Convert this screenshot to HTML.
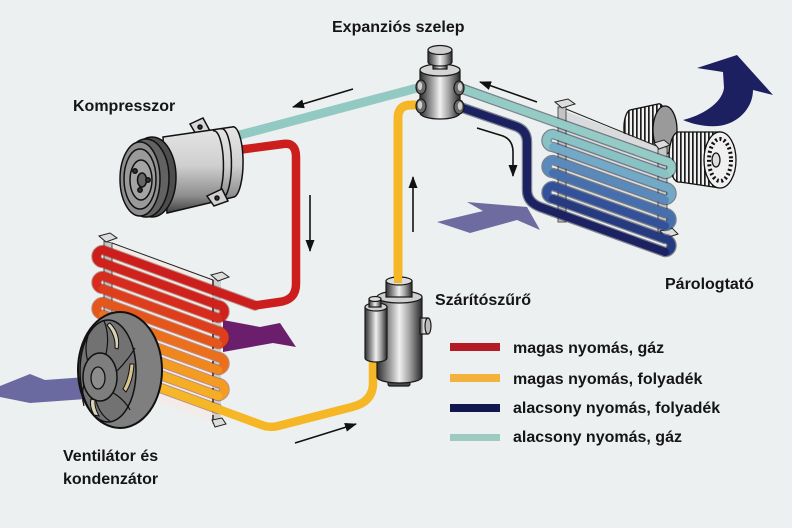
<!DOCTYPE html>
<html><head><meta charset="utf-8">
<style>
html,body{margin:0;padding:0;background:#edf0f0;}
svg{display:block;}
text{font-family:"Liberation Sans","DejaVu Sans",sans-serif;font-weight:bold;font-size:16px;fill:#151515;}
</style></head><body>
<svg width="792" height="528" viewBox="0 0 792 528" xmlns="http://www.w3.org/2000/svg">
<defs>
<linearGradient id="mh" x1="0" y1="0" x2="1" y2="0">
<stop offset="0" stop-color="#2e2e2e"/><stop offset="0.3" stop-color="#a0a0a0"/><stop offset="0.5" stop-color="#f0f0f0"/><stop offset="0.72" stop-color="#a4a4a4"/><stop offset="1" stop-color="#282828"/>
</linearGradient>
<linearGradient id="cv" x1="0" y1="0" x2="0" y2="1">
<stop offset="0" stop-color="#e6e6e6"/><stop offset="0.45" stop-color="#cfcfcf"/><stop offset="0.8" stop-color="#8e8e8e"/><stop offset="1" stop-color="#404040"/>
</linearGradient>
<pattern id="st" width="4" height="6" patternUnits="userSpaceOnUse"><rect width="4" height="6" fill="#f2f2f2"/><rect width="1.7" height="6" fill="#1e1e1e"/></pattern>
<marker id="ah" viewBox="0 0 12 9" refX="11" refY="4.5" markerWidth="12" markerHeight="9" markerUnits="userSpaceOnUse" orient="auto"><path d="M0,0 L12,4.5 L0,9 z" fill="#111"/></marker>
</defs>
<rect width="792" height="528" fill="#edf0f0"/>

<!-- air arrows -->
<polygon points="0,386 30,374 45,380 100,376 100,398 30,403 0,397" fill="#6a69a0"/>
<polygon points="223,320 260,327 280,323 296,347 273,343 223,352" fill="#6b1e6c"/>
<polygon points="437,222 483,211 467,202 527,207 540,230 517,220 470,233" fill="#6e6ba0"/>

<!-- condenser frame -->
<polygon points="108,242 217,281 217,423 108,384" fill="#f3ebe7"/>
<polygon points="104,241 112,243 112,375 104,372" fill="#c6c6c6" stroke="#333" stroke-width="0.8"/>
<rect x="212" y="279" width="9" height="145" fill="#cfcfcf"/>
<line x1="213" y1="280" x2="213" y2="424" stroke="#111" stroke-width="1.3" stroke-dasharray="6 3"/>
<line x1="112" y1="243" x2="213" y2="280" stroke="#222" stroke-width="1"/>
<polygon points="99,236 110,233 117,238 106,242" fill="#ddd" stroke="#222" stroke-width="1"/>
<polygon points="211,275 222,272 229,277 218,281" fill="#ddd" stroke="#222" stroke-width="1"/>
<polygon points="212,420 222,418 226,424 215,427" fill="#ddd" stroke="#222" stroke-width="1"/>

<!-- teal compressor->valve -->
<path d="M236 136 L421 87" stroke="#93c9c3" stroke-width="9" stroke-linecap="round" fill="none"/>

<!-- condenser pipes -->
<g fill="none" stroke-linejoin="round" stroke-linecap="round">
<path d="M255 305.5 L103 250 A6.5 6.5 0 0 0 103 263 L218 305 A6.5 6.5 0 0 1 218 318 L103 276 A6.5 6.5 0 0 0 103 289 L218 331 A6.5 6.5 0 0 1 218 344 L103 302 A6.5 6.5 0 0 0 103 315 L218 357 A6.5 6.5 0 0 1 218 370 L103 328 A6.5 6.5 0 0 0 103 341 L218 383 A6.5 6.5 0 0 1 218 396 L103 354 A6.5 6.5 0 0 0 103 367 L218 409" stroke="#7a2010" stroke-opacity="0.45" stroke-width="10.5"/>
<path d="M238 150 L283 144 Q296 142 296 157 L296 284 Q296 300 279 302 L255 305.5 L103 250 A6.5 6.5 0 0 0 103 263" stroke="#cc1f1d" stroke-width="8.5"/>
<path d="M103 263 L218 305 A6.5 6.5 0 0 1 218 318" stroke="#d0221d" stroke-width="8.5"/>
<path d="M218 318 L103 276 A6.5 6.5 0 0 0 103 289" stroke="#d62b1d" stroke-width="8.5"/>
<path d="M103 289 L218 331 A6.5 6.5 0 0 1 218 344" stroke="#de3e1c" stroke-width="8.5"/>
<path d="M218 344 L103 302 A6.5 6.5 0 0 0 103 315" stroke="#e5561b" stroke-width="8.5"/>
<path d="M103 315 L218 357 A6.5 6.5 0 0 1 218 370" stroke="#ec6f1b" stroke-width="8.5"/>
<path d="M218 370 L103 328 A6.5 6.5 0 0 0 103 341" stroke="#f0871d" stroke-width="8.5"/>
<path d="M103 341 L218 383 A6.5 6.5 0 0 1 218 396" stroke="#f39c21" stroke-width="8.5"/>
<path d="M218 396 L103 354 A6.5 6.5 0 0 0 103 367" stroke="#f5ad24" stroke-width="8.5"/>
<path d="M103 367 L218 409 L263 425.5 Q270 428 278 426 L352 407 Q372 402 373 385 L373 360" stroke="#f6b727" stroke-width="8.5"/>
</g>

<!-- compressor -->
<g stroke="#111" stroke-width="1.5">
<polygon points="190,124 203,118 210,131 197,136" fill="#d8d8d8"/>
<circle cx="200" cy="127" r="2" fill="#333"/>
<path d="M163 137 L232 127 A10 35 0 0 1 234 197 L167 213 Z" fill="url(#cv)"/>
<path d="M213 131 A9 33 0 0 1 215 200" fill="none"/>
<path d="M221 129 A9 33 0 0 1 223 198" fill="none"/>
<polygon points="207,196 222,189 228,201 214,206" fill="#d0d0d0"/>
<circle cx="217" cy="198" r="2" fill="#333"/>
<ellipse cx="152" cy="177" rx="24" ry="40" fill="#4d4d4d"/>
<ellipse cx="146" cy="178" rx="23" ry="39" fill="#626262"/>
<ellipse cx="140" cy="179" rx="20" ry="37" fill="#8e8e8e"/>
<ellipse cx="140" cy="179" rx="16" ry="30" fill="#9a9a9a"/>
<ellipse cx="141" cy="180" rx="11" ry="20" fill="#a4a4a4"/>
<ellipse cx="142" cy="180" rx="4.5" ry="7" fill="#666"/>
<circle cx="135" cy="171" r="2.2" fill="#333"/>
<circle cx="140" cy="190" r="2.2" fill="#333"/>
<circle cx="148" cy="180" r="2.2" fill="#333"/>
</g>

<!-- fan -->
<g>
<ellipse cx="120" cy="370" rx="42" ry="58" fill="#7f7f7f" stroke="#111" stroke-width="2"/>
<ellipse cx="108" cy="371" rx="28" ry="51" fill="#727272" stroke="#111" stroke-width="1.5"/>
<path d="M110 323 Q121 334 118 349 L115 348 Q116 336 107 325 Z" fill="#d9d2b4" stroke="#111" stroke-width="1"/>
<path d="M134 364 Q133 381 126 392 L123 389 Q129 378 130 364 Z" fill="#d8c48e" stroke="#111" stroke-width="1"/>
<path d="M94 415 Q89 406 91 399 L95 400 Q94 407 99 416 Z" fill="#d9d2b4" stroke="#111" stroke-width="1"/>
<g fill="none" stroke="#111" stroke-width="1.2">
<path d="M106 354 Q110 335 104 321"/>
<path d="M116 372 Q128 360 135 348"/>
<path d="M112 392 Q125 400 130 410"/>
<path d="M96 401 Q100 415 110 421"/>
<path d="M84 384 Q81 396 84 406"/>
<path d="M88 362 Q84 348 88 336"/>
</g>
<ellipse cx="100" cy="377" rx="17" ry="24" fill="#7e7e7e" stroke="#111" stroke-width="1.5"/>
<ellipse cx="98" cy="378" rx="7" ry="11" fill="#8c8c8c" stroke="#111" stroke-width="1.3"/>
</g>

<!-- yellow vertical to valve -->
<path d="M398 285 L398 118 Q398 105 411 105 L422 105" stroke="#f6b727" stroke-width="9" fill="none" stroke-linejoin="round"/>

<!-- blower -->
<g stroke="#111" stroke-width="1.3">
<path d="M630 110 L658 104 A8 24 0 0 1 660 152 L632 146 A7 18 0 0 1 630 110 Z" fill="url(#st)"/>
<ellipse cx="665" cy="130" rx="12" ry="24" fill="#9a9a9a"/>
<path d="M678 132 L718 132 A16 28 0 0 1 720 188 L680 182 A10 25 0 0 1 678 132 Z" fill="url(#st)"/>
<ellipse cx="720" cy="160" rx="16" ry="28" fill="#f0f0f0"/>
<ellipse cx="720" cy="160" rx="11" ry="21" fill="none" stroke-width="4" stroke-dasharray="2 2.5"/>
<ellipse cx="716" cy="160" rx="4" ry="7" fill="#ddd"/>
</g>

<!-- evaporator frame -->
<polygon points="562,110 662,148 666,234 562,198" fill="#d9dadb"/>
<line x1="566" y1="109" x2="659" y2="147" stroke="#222" stroke-width="1"/>
<rect x="558" y="107" width="8" height="115" fill="#c4c4c4" stroke="#333" stroke-width="0.8"/>
<rect x="658" y="147" width="9" height="86" fill="#c8c8c8" stroke="#333" stroke-width="0.8"/>
<polygon points="555,102 568,99 575,104 562,108" fill="#ddd" stroke="#222" stroke-width="1"/>
<polygon points="654,143 664,140 670,145 659,149" fill="#ddd" stroke="#222" stroke-width="1"/>
<polygon points="660,231 672,228 678,234 666,238" fill="#ddd" stroke="#222" stroke-width="1"/>

<!-- evaporator pipes -->
<g fill="none" stroke-linejoin="round" stroke-linecap="round">
<path d="M460 88 L665 161 A6.5 6.5 0 0 1 665 174 L553 134 A6.5 6.5 0 0 0 553 147 L665 187 A6.5 6.5 0 0 1 665 200 L553 160 A6.5 6.5 0 0 0 553 173 L665 213 A6.5 6.5 0 0 1 665 226 L553 186 A6.5 6.5 0 0 0 553 199 L665 239 A6.5 6.5 0 0 1 665 252 L540 207 Q527 202 527 190 L527 142 Q527 130 515 126 L460 107" stroke="#1e2a40" stroke-opacity="0.55" stroke-width="10.5"/>
<path d="M460 88 L665 161 A6.5 6.5 0 0 1 665 174" stroke="#94cbc4" stroke-width="8"/>
<path d="M665 174 L553 134 A6.5 6.5 0 0 0 553 147" stroke="#89c2c5" stroke-width="8"/>
<path d="M553 147 L665 187 A6.5 6.5 0 0 1 665 200" stroke="#72a9c6" stroke-width="8"/>
<path d="M665 200 L553 160 A6.5 6.5 0 0 0 553 173" stroke="#5a8abb" stroke-width="8"/>
<path d="M553 173 L665 213 A6.5 6.5 0 0 1 665 226" stroke="#4670ad" stroke-width="8"/>
<path d="M665 226 L553 186 A6.5 6.5 0 0 0 553 199" stroke="#33519a" stroke-width="8"/>
<path d="M553 199 L665 239 A6.5 6.5 0 0 1 665 252" stroke="#263a80" stroke-width="8"/>
<path d="M665 252 L540 207 Q527 202 527 190 L527 142 Q527 130 515 126 L460 107" stroke="#1c2162" stroke-width="8"/>
</g>

<!-- expansion valve -->
<g stroke="#1a1a1a" stroke-width="1.2">
<path d="M420 70 L420 113 A20 6 0 0 0 460 113 L460 70 Z" fill="url(#mh)"/>
<ellipse cx="440" cy="70" rx="20" ry="6" fill="#d4d4d4"/>
<rect x="433" y="60" width="14" height="9" fill="url(#mh)"/>
<path d="M428 50 L428 62 A12 4 0 0 0 452 62 L452 50 Z" fill="url(#mh)"/>
<ellipse cx="440" cy="50" rx="12" ry="4.5" fill="#cfcfcf"/>
<ellipse cx="421" cy="87" rx="5" ry="7" fill="#6a6a6a"/>
<ellipse cx="421" cy="106" rx="5" ry="7" fill="#6a6a6a"/>
<ellipse cx="459" cy="88" rx="5" ry="7" fill="#6a6a6a"/>
<ellipse cx="459" cy="107" rx="5" ry="7" fill="#6a6a6a"/>
<ellipse cx="420" cy="86" rx="2.2" ry="4" fill="#cfcfcf" stroke="none"/>
<ellipse cx="420" cy="105" rx="2.2" ry="4" fill="#cfcfcf" stroke="none"/>
<ellipse cx="460" cy="87" rx="2.2" ry="4" fill="#cfcfcf" stroke="none"/>
<ellipse cx="460" cy="106" rx="2.2" ry="4" fill="#cfcfcf" stroke="none"/>
</g>

<!-- filter drier -->
<g stroke="#1a1a1a" stroke-width="1.2">
<rect x="388" y="378" width="22" height="8" rx="2" fill="#4a4a4a"/>
<path d="M377 297 L377 377 A22.5 6 0 0 0 422 377 L422 297 Z" fill="url(#mh)"/>
<ellipse cx="399.5" cy="297" rx="22.5" ry="6" fill="#cfcfcf"/>
<path d="M386 281 L386 297 L412 297 L412 281 Z" fill="url(#mh)"/>
<ellipse cx="399" cy="281" rx="13" ry="4" fill="#dcdcdc"/>
<path d="M420 318 L428 318 L428 334 L420 334 Z" fill="url(#mh)"/>
<ellipse cx="428" cy="326" rx="3" ry="8" fill="#bbb"/>
<path d="M365 307 L365 358 A11 4 0 0 0 387 358 L387 307 Z" fill="url(#mh)"/>
<ellipse cx="376" cy="307" rx="11" ry="4" fill="#cfcfcf"/>
<rect x="369" y="299" width="12" height="8" fill="url(#mh)"/>
<ellipse cx="375" cy="299" rx="6" ry="2.5" fill="#ddd"/>
</g>
<path d="M398 270 L398 283" stroke="#f6b727" stroke-width="8"/>

<!-- big navy arrow -->
<path d="M683 120 C700 116 722 104 724 88 L723 72 L697 68 L737 55 L773 95 L753 90 C753 108 738 124 718 126 C705 127 692 124 683 120 Z" fill="#1c2060"/>

<!-- flow arrows -->
<g stroke="#111" stroke-width="1.6" fill="none" marker-end="url(#ah)">
<line x1="353" y1="89" x2="293" y2="107"/>
<line x1="537" y1="102" x2="480" y2="82"/>
<path d="M477 128 L503 136 Q513 140 513 152 L513 176"/>
<line x1="413" y1="232" x2="413" y2="177"/>
<line x1="310" y1="195" x2="310" y2="251"/>
<line x1="295" y1="443" x2="356" y2="424"/>
</g>

<!-- legend -->
<rect x="450" y="343" width="50" height="8" fill="#b41b25"/>
<rect x="450" y="374" width="50" height="8" fill="#f2b23c"/>
<rect x="450" y="404" width="50" height="8" fill="#12184e"/>
<rect x="450" y="434" width="50" height="7" fill="#9ecbc1"/>
<text x="513" y="353">magas nyomás, gáz</text>
<text x="513" y="384">magas nyomás, folyadék</text>
<text x="513" y="413">alacsony nyomás, folyadék</text>
<text x="513" y="442">alacsony nyomás, gáz</text>

<!-- labels -->
<text x="73" y="111">Kompresszor</text>
<text x="332" y="32">Expanziós szelep</text>
<text x="665" y="289">Párologtató</text>
<text x="435" y="305">Szárítószűrő</text>
<text x="63" y="461">Ventilátor és</text>
<text x="63" y="484">kondenzátor</text>
</svg>
</body></html>
